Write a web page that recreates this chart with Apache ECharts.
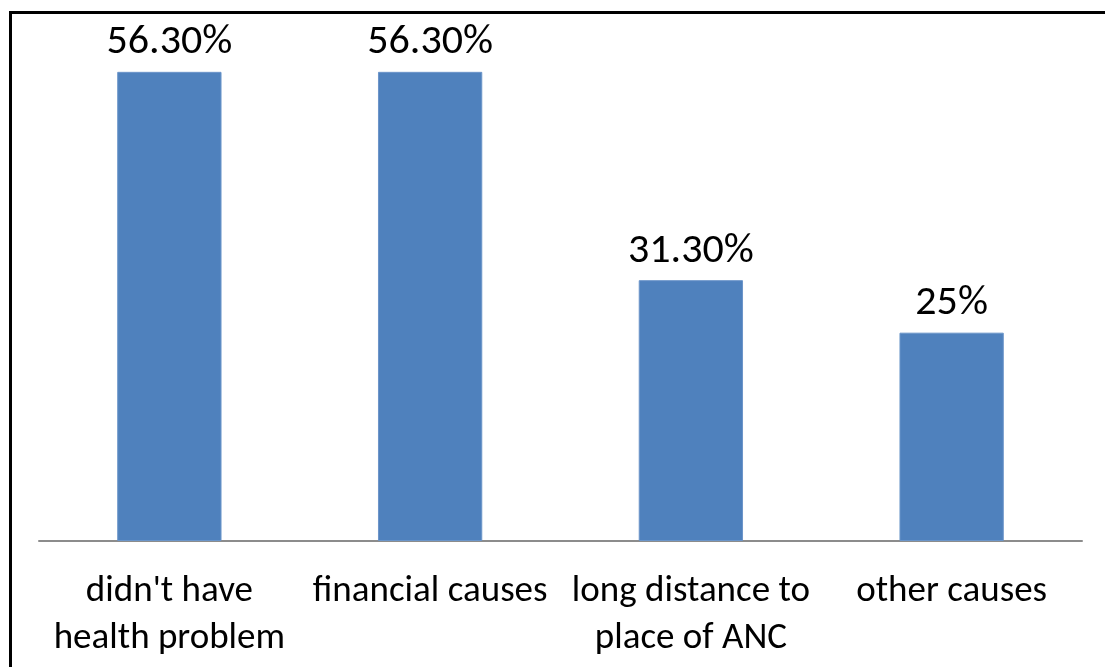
<!DOCTYPE html>
<html>
<head>
<meta charset="utf-8">
<script src="https://cdn.jsdelivr.net/npm/echarts@6/dist/echarts.min.js"></script>
<style>
html,body{margin:0;padding:0;background:#fff;overflow:hidden;}
#chart{width:1105px;height:667px;position:absolute;left:0;top:0;}
#frame{position:absolute;left:9px;top:11px;width:1200px;height:700px;border-top:3px solid #000;border-left:3px solid #000;box-sizing:border-box;pointer-events:none;}
</style>
</head>
<body>
<div id="chart"></div>
<div id="frame"></div>
<script>
const categories = ["didn't have\nhealth problem", "financial causes", "long distance to\nplace of ANC", "other causes"];
const values = [56.3, 56.3, 31.3, 25];
const valueLabels = ["56.30%", "56.30%", "31.30%", "25%"];

const chart = echarts.init(document.getElementById('chart'));
chart.setOption({
  animation: false,
  backgroundColor: '#fff',
  grid: {left: 39, right: 23, top: 41, bottom: 126},
  xAxis: {
    type: 'category',
    data: categories,
    axisLine: {lineStyle: {color: '#8c8c8c', width: 2}},
    axisTick: {show: false},
    axisLabel: {
      color: '#000', fontFamily: 'Calibri, Carlito, Lato, sans-serif', fontSize: 37,
      lineHeight: 47, margin: 27, interval: 0
    }
  },
  yAxis: {type: 'value', min: 0, max: 60, show: false, splitLine: {show: false}},
  series: [{
    type: 'bar',
    data: values,
    barWidth: '40%',
    itemStyle: {color: '#4f81bd', borderColor: '#6b95c9', borderWidth: 1},
    label: {
      show: true, position: 'top', distance: 8,
      color: '#000', fontFamily: 'Calibri, Carlito, Lato, sans-serif', fontSize: 42,
      formatter: p => valueLabels[p.dataIndex]
    }
  }]
});
</script>
</body>
</html>
